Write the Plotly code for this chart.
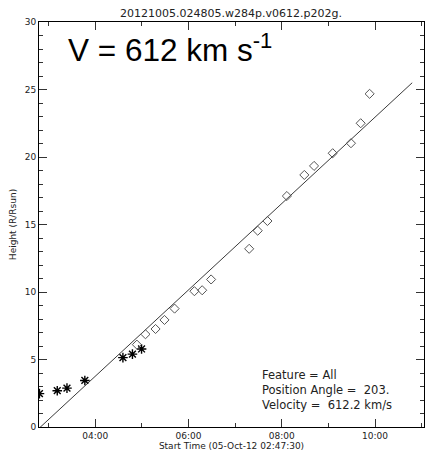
import plotly.graph_objects as go

DAY = "2012-10-05 "

# Asterisk points (early features)
star_times = ["02:48:05", "03:11:00", "03:23:30", "03:46:30", "04:35:30", "04:47:45", "04:59:30"]
star_heights = [2.47, 2.69, 2.88, 3.45, 5.14, 5.40, 5.78]

# Diamond points
dia_times = ["04:53:30", "05:04:30", "05:17:30", "05:29:00", "05:42:00", "06:07:30",
             "06:17:30", "06:29:00", "07:18:00", "07:29:00", "07:41:30", "08:06:30",
             "08:29:00", "08:41:30", "09:05:30", "09:29:00", "09:41:30", "09:53:00"]
dia_heights = [6.10, 6.87, 7.26, 7.93, 8.77, 10.06, 10.13, 10.93, 13.20, 14.54,
               15.26, 17.11, 18.67, 19.34, 20.28, 21.02, 22.50, 24.68]

# Linear fit line
fit_times = ["02:47:30", "10:47:48"]
fit_heights = [-0.1, 25.5]

x_range = ["02:47:30", "11:03:00"]
y_range = [0, 30]

title_text = "20121005.024805.w284p.v0612.p202g."
x_title = "Start Time (05-Oct-12 02:47:30)"
y_title = "Height (R/Rsun)"
info_lines = ["Feature = All", "Position Angle =  203.", "Velocity =  612.2 km/s"]

def ts(lst):
    return [DAY + t for t in lst]

fig = go.Figure()
fig.add_trace(go.Scatter(x=ts(fit_times), y=fit_heights, mode="lines",
                         line=dict(color="#3a3a3a", width=1), showlegend=False))
fig.add_trace(go.Scatter(x=ts(star_times), y=star_heights, mode="markers",
                         marker=dict(symbol="asterisk-open", size=8, color="black",
                                     line=dict(color="black", width=1.4)),
                         showlegend=False))
fig.add_trace(go.Scatter(x=ts(dia_times), y=dia_heights, mode="markers",
                         marker=dict(symbol="diamond-open", size=7, color="#555555",
                                     line=dict(color="#555555", width=1)),
                         showlegend=False))
# invisible helper trace so the mirrored (top/right) tick axes are drawn
fig.add_trace(go.Scatter(x=ts(fit_times), y=fit_heights, mode="lines",
                         line=dict(width=0), opacity=0, hoverinfo="skip",
                         xaxis="x2", yaxis="y2", showlegend=False))

tickfont = dict(family="DejaVu Sans", size=9, color="#222222")
xr = ts(x_range)

common_x = dict(range=xr, type="date", showgrid=False, zeroline=False,
                showline=True, linecolor="black", linewidth=1,
                ticks="inside", ticklen=8, tickcolor="#333333",
                tick0=DAY + "00:00:00", dtick=7200000, tickformat="%H:%M",
                tickfont=tickfont,
                minor=dict(ticks="inside", ticklen=4, dtick=3600000,
                           tick0=DAY + "00:00:00", tickcolor="#333333", showgrid=False))
common_y = dict(range=y_range, showgrid=False, zeroline=False,
                showline=True, linecolor="black", linewidth=1,
                ticks="inside", ticklen=8, tickcolor="#333333", dtick=5, tick0=0,
                tickfont=tickfont,
                minor=dict(ticks="inside", ticklen=4, dtick=1, tickcolor="#333333", showgrid=False))

fig.update_layout(
    width=425, height=455,
    margin=dict(l=39, r=1, t=22, b=28),
    paper_bgcolor="white", plot_bgcolor="white",
    title=dict(text=title_text, x=0.5435, xanchor="center", y=1 - 13 / 455,
               yanchor="middle", yref="container",
               font=dict(family="DejaVu Sans", size=11, color="#222222")),
    xaxis=dict(**common_x,
               title=dict(text=x_title, font=dict(family="DejaVu Sans", size=9, color="#222222"),
                          standoff=0)),
    yaxis=dict(**common_y,
               title=dict(text=y_title, font=dict(family="DejaVu Sans", size=9, color="#222222"),
                          standoff=6)),
    xaxis2=dict(**common_x, overlaying="x", side="top", anchor="y2", showticklabels=False),
    yaxis2=dict(**common_y, overlaying="y", side="right", anchor="x2", showticklabels=False),
)

fig.add_annotation(text="V = 612 km s<sup>-1</sup>", xref="paper", yref="paper",
                   x=0.070, y=0.935, xanchor="left", yanchor="middle", showarrow=False,
                   font=dict(family="Liberation Sans", size=31.5, color="black"))

fig.add_annotation(text="<br>".join(info_lines), xref="paper", yref="paper",
                   x=0.574, y=0.092, xanchor="left", yanchor="middle", align="left",
                   showarrow=False,
                   font=dict(family="DejaVu Sans", size=11.5, color="#222222"))

fig.write_html("out.html")
